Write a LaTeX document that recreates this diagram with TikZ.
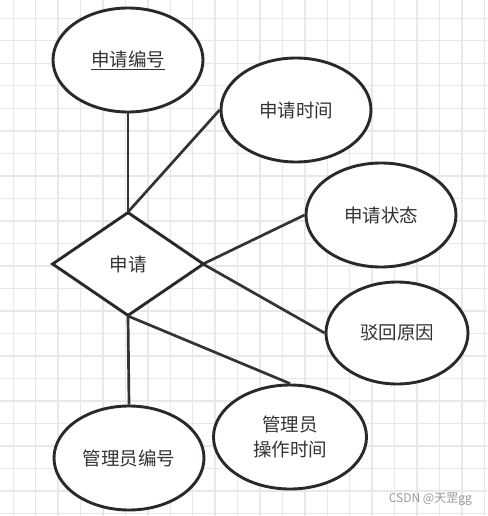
\documentclass[tikz,border=0pt]{standalone}
\usepackage{fontspec}
\newfontfamily\cjk{Noto Sans CJK SC}
\usetikzlibrary{shapes.geometric}
\definecolor{gridc}{HTML}{E8E8E8}
\definecolor{edgec}{HTML}{262A2E}
\definecolor{linec}{HTML}{333333}
\definecolor{txtc}{HTML}{333333}
\begin{document}
\begin{tikzpicture}[x=1pt,y=-1pt,
  attr/.style={ellipse,draw=edgec,line width=2.9pt,fill=white,minimum width=150pt,minimum height=104pt,inner sep=0pt,font=\cjk\fontsize{18.5}{25}\selectfont,text=txtc,align=center},
  rel/.style={diamond,draw=edgec,line width=2.9pt,fill=white,minimum width=152pt,minimum height=104pt,inner sep=0pt,font=\cjk\fontsize{18.5}{25}\selectfont,text=txtc},
  conn/.style={draw=linec,line width=2.7pt}]
\useasboundingbox (0,0) rectangle (487,516);
\fill[white] (0,0) rectangle (487,516);
\foreach \i in {0,...,21} {\draw[gridc,line width=1.4pt] (13.3+22.43*\i,0) -- (13.3+22.43*\i,516);}
\foreach \j in {0,...,22} {\draw[gridc,line width=1.4pt] (0,18.3+22.5*\j) -- (487,18.3+22.5*\j);}
\coordinate (dtop) at (128,212);
\coordinate (dbot) at (128,316);
\coordinate (dright) at (203,264);
\node[attr] (bh) at (128,60) {\underline{申请编号}};
\node[attr] (sj) at (296,110) {申请时间};
\node[attr] (zt) at (381,215) {申请状态};
\node[attr,minimum width=142pt,minimum height=102pt] (bh2) at (397,333) {驳回原因};
\node[attr] (gb) at (129,458) {管理员编号};
\node[attr,minimum width=153pt] (cz) at (290,437) {管理员\\操作时间};
\draw[conn] (dtop) -- (bh.south);
\draw[conn] (dtop) -- (sj.west);
\draw[conn] (dright) -- (zt.west);
\draw[conn] (dright) -- (bh2.west);
\draw[conn] (dbot) -- (gb.north);
\draw[conn] (dbot) -- (cz.north);
\node[rel] (sq) at (128,264) {申请};
\node[anchor=east,font=\cjk\fontsize{12}{14}\selectfont,text=gray!80,inner sep=0pt] (wm) at (472,499) {CSDN @天罡gg};
\end{tikzpicture}
\end{document}
